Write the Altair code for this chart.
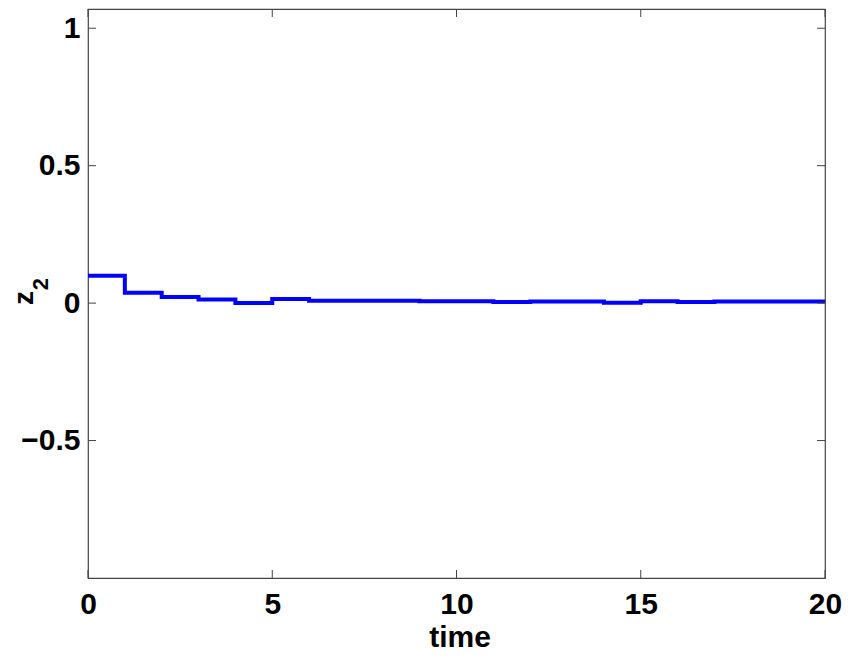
import altair as alt
import pandas as pd

# step values of z2 on each interval [t, t+1)
times = list(range(21))
z2_values = [0.100, 0.038, 0.022, 0.013, 0.000, 0.015, 0.009, 0.009, 0.009, 0.007,
             0.007, 0.004, 0.006, 0.006, 0.001, 0.007, 0.004, 0.006, 0.006, 0.006, 0.006]
x_ticks = [0, 5, 10, 15, 20]
y_ticks = [-0.5, 0, 0.5, 1]

W, H = 737, 569
FONT = "Liberation Sans, Arial, Helvetica, sans-serif"
FSIZE = 30
FRAME = "#444444"

xs = alt.Scale(domain=[0, 20], nice=False, zero=False)
ys = alt.Scale(domain=[-1, 1.07], nice=False, zero=False)

df = pd.DataFrame({"t": times, "z": z2_values})
xt = pd.DataFrame({"t": x_ticks})
yt = pd.DataFrame({"v": y_ticks})

line = alt.Chart(df).mark_line(interpolate="step-after", color="#0000FF",
                               strokeWidth=4, clip=True).encode(
    x=alt.X("t:Q", scale=xs,
            axis=alt.Axis(values=x_ticks, title=None, ticks=False, domain=False, grid=False,
                          labelFont=FONT, labelFontSize=FSIZE, labelFontWeight="bold",
                          labelColor="black", labelPadding=11, labelFlush=False)),
    y=alt.Y("z:Q", scale=ys,
            axis=alt.Axis(values=y_ticks, title=None, ticks=False, domain=False, grid=False,
                          format="~g",
                          labelFont=FONT, labelFontSize=FSIZE, labelFontWeight="bold",
                          labelColor="black", labelPadding=8)),
)

tl = 8
bottom_ticks = alt.Chart(xt).mark_rule(color=FRAME, strokeWidth=1).encode(
    x=alt.X("t:Q", scale=xs), y=alt.value(H), y2=alt.value(H - tl))
top_ticks = alt.Chart(xt).mark_rule(color=FRAME, strokeWidth=1).encode(
    x=alt.X("t:Q", scale=xs), y=alt.value(0), y2=alt.value(tl))
left_ticks = alt.Chart(yt).mark_rule(color=FRAME, strokeWidth=1).encode(
    y=alt.Y("v:Q", scale=ys), x=alt.value(0), x2=alt.value(tl))
right_ticks = alt.Chart(yt).mark_rule(color=FRAME, strokeWidth=1).encode(
    y=alt.Y("v:Q", scale=ys), x=alt.value(W), x2=alt.value(W - tl))

lab = pd.DataFrame({"s": ["x"]})
xtitle = alt.Chart(lab).mark_text(text="time", font=FONT, fontSize=FSIZE, fontWeight="bold",
                                  color="black", align="center", baseline="alphabetic").encode(
    x=alt.value(372), y=alt.value(638))
ztitle = alt.Chart(lab).mark_text(text="z", font=FONT, fontSize=28, fontWeight="bold",
                                  color="black", align="center", baseline="alphabetic",
                                  angle=270).encode(
    x=alt.value(-55), y=alt.value(289))
zsub = alt.Chart(lab).mark_text(text="2", font=FONT, fontSize=22, fontWeight="bold",
                                color="black", align="center", baseline="alphabetic",
                                angle=270).encode(
    x=alt.value(-40), y=alt.value(275))

chart = alt.layer(line, bottom_ticks, top_ticks, left_ticks, right_ticks,
                  xtitle, ztitle, zsub).properties(
    width=W, height=H,
    autosize=alt.AutoSizeParams(type="none"),
    padding={"left": 80, "top": 1, "right": 18, "bottom": 76},
    background="white",
).configure_view(stroke=FRAME, strokeWidth=1.2)

chart.save("out.html", embed_options={"renderer": "svg", "actions": False})
